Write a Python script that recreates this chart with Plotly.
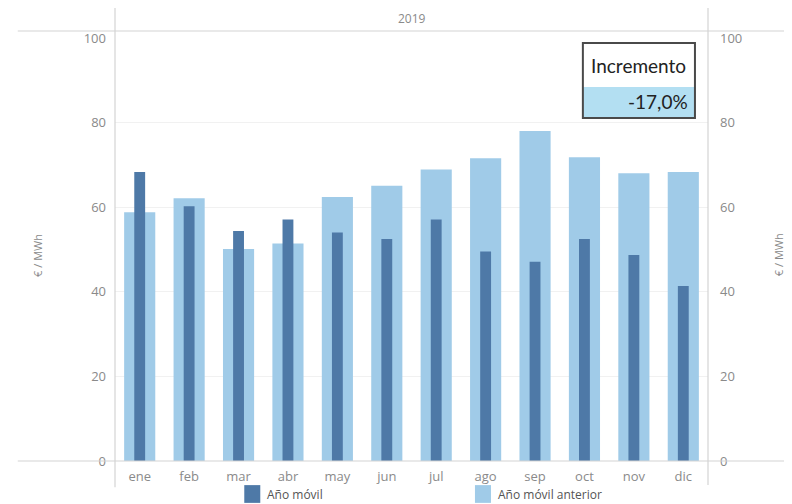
import plotly.graph_objects as go

meses = ["ene", "feb", "mar", "abr", "may", "jun", "jul", "ago", "sep", "oct", "nov", "dic"]
ano_movil = [68.3, 60.2, 54.4, 57.1, 54.0, 52.5, 57.1, 49.5, 47.1, 52.5, 48.7, 41.4]
ano_movil_anterior = [58.8, 62.1, 50.1, 51.4, 62.4, 65.1, 68.9, 71.6, 78.0, 71.8, 68.0, 68.3]
series_names = ["Año móvil", "Año móvil anterior"]
incremento = "-17,0%"

DARK = "#4e79a7"
PALE = "#a0cbe8"
LINE = "#d4d4d4"
TEXT = "#8a8a8a"

fig = go.Figure()
fig.add_trace(go.Bar(
    x=meses, y=ano_movil_anterior, name=series_names[1],
    marker={"color": PALE, "line": {"width": 0}}, width=0.63,
))
fig.add_trace(go.Bar(
    x=meses, y=ano_movil, name=series_names[0],
    marker={"color": DARK, "line": {"width": 0}}, width=0.22,
))
# invisible trace so the right-hand axis gets drawn
fig.add_trace(go.Scatter(x=meses, y=ano_movil, yaxis="y2", mode="none",
                         showlegend=False, hoverinfo="skip"))

# the page body adds an 8px offset, so the figure is 8px smaller than the window
tick_font = {"size": 13, "color": TEXT}
fig.update_layout(
    width=784, height=496,
    margin={"l": 107, "r": 84, "t": 30, "b": 43},
    paper_bgcolor="white", plot_bgcolor="white",
    barmode="overlay",
    font={"family": "Open Sans, sans-serif", "color": TEXT, "size": 12},
    showlegend=False,
    xaxis={
        "showgrid": False, "showline": False, "zeroline": False, "ticks": "",
        "tickfont": tick_font, "ticklabelstandoff": 6, "automargin": False,
    },
    yaxis={
        "range": [0, 100], "tickvals": [0, 20, 40, 60, 80, 100],
        "showgrid": True, "gridcolor": "#f1f1f1", "zeroline": False, "showline": False,
        "ticks": "", "tickfont": tick_font, "ticklabelstandoff": 8, "automargin": False,
    },
    yaxis2={
        "range": [0, 100], "tickvals": [0, 20, 40, 60, 80, 100], "overlaying": "y",
        "side": "right", "showgrid": False, "zeroline": False, "showline": False,
        "ticks": "", "tickfont": tick_font, "ticklabelstandoff": 11, "automargin": False,
    },
)

# frame lines in the Tableau style
shapes = [
    dict(type="line", xref="paper", yref="paper", x0=-0.164, x1=1.15, y0=1.0165, y1=1.0165,
         line={"color": LINE, "width": 1.2}),
    dict(type="line", xref="paper", yref="paper", x0=-0.164, x1=1.15, y0=0, y1=0,
         line={"color": LINE, "width": 1.2}),
    dict(type="line", xref="paper", yref="paper", x0=0, x1=0, y0=-0.062, y1=1.1,
         line={"color": LINE, "width": 1.2}),
    dict(type="line", xref="paper", yref="paper", x0=1, x1=1, y0=-0.057, y1=1.1,
         line={"color": LINE, "width": 1.2}),
    # increment box
    dict(type="rect", xref="paper", yref="paper", x0=0.789, x1=0.978, y0=0.884, y1=0.988,
         fillcolor="white", line={"width": 0}),
    dict(type="rect", xref="paper", yref="paper", x0=0.789, x1=0.978, y0=0.811, y1=0.884,
         fillcolor="#b3dff2", line={"width": 0}),
    dict(type="rect", xref="paper", yref="paper", x0=0.789, x1=0.978, y0=0.811, y1=0.988,
         fillcolor="rgba(0,0,0,0)", line={"color": "#4a4a4a", "width": 2}),
    # legend swatches
    dict(type="rect", xref="paper", yref="paper", x0=0.218, x1=0.245, y0=-0.057, y1=-0.099,
         fillcolor=DARK, line={"width": 0}),
    dict(type="rect", xref="paper", yref="paper", x0=0.607, x1=0.634, y0=-0.057, y1=-0.099,
         fillcolor=PALE, line={"width": 0}),
]
fig.update_layout(shapes=shapes)

box_font = {"family": "Lato, sans-serif", "size": 19, "color": "#222222"}
annotations = [
    dict(text="2019", x=0.5, y=1.047, xanchor="center", yanchor="middle",
         font={"size": 12, "color": TEXT}),
    dict(text="€ / MWh", x=-0.13, y=0.487, xanchor="center", yanchor="middle",
         textangle=-90, font={"size": 11, "color": TEXT}),
    dict(text="€ / MWh", x=1.12, y=0.487, xanchor="center", yanchor="middle",
         textangle=-90, font={"size": 11, "color": TEXT}),
    dict(text="Incremento", x=0.8835, y=0.936, xanchor="center", yanchor="middle",
         font=box_font),
    dict(text=incremento, x=0.97, y=0.849, xanchor="right", yanchor="middle",
         font=box_font),
    dict(text=series_names[0], x=0.253, y=-0.08, xanchor="left", yanchor="middle",
         font={"size": 12, "color": "#555555"}),
    dict(text=series_names[1], x=0.642, y=-0.08, xanchor="left", yanchor="middle",
         font={"size": 12, "color": "#555555"}),
]
for a in annotations:
    a.update(xref="paper", yref="paper", showarrow=False)
fig.update_layout(annotations=annotations)

fig.write_html("out.html")
